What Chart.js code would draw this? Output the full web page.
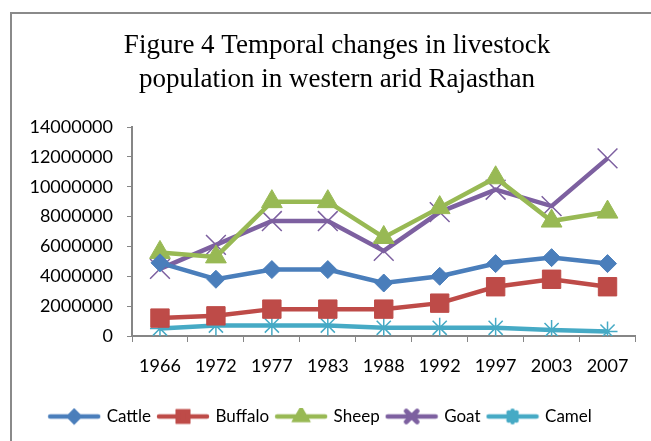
<!DOCTYPE html>
<html>
<head>
<meta charset="utf-8">
<script src="https://cdn.jsdelivr.net/npm/chart.js@4.4.1/dist/chart.umd.min.js"></script>
<style>
  body { margin: 0; background: #fff; }
  #wrap { position: relative; width: 651px; height: 441px; overflow: hidden; }
  #frame { position: absolute; left: 10px; top: 12px; width: 700px; height: 500px; border: 2px solid #8a8a8a; }
  #myChart { position: absolute; left: 0; top: 0; }
</style>
</head>
<body>
<div id="wrap">
  <div id="frame"></div>
  <canvas id="myChart" width="651" height="441"></canvas>
</div>
<script>
// years on the x axis
const years = ["1966", "1972", "1977", "1983", "1988", "1992", "1997", "2003", "2007"];

// livestock numbers
const cattle = [4900000, 3800000, 4450000, 4450000, 3550000, 4000000, 4850000, 5250000, 4850000];
const buffalo = [1200000, 1350000, 1800000, 1800000, 1800000, 2200000, 3300000, 3800000, 3300000];
const sheep = [5600000, 5300000, 9000000, 9000000, 6600000, 8600000, 10600000, 7700000, 8300000];
const goat = [4500000, 6100000, 7700000, 7700000, 5700000, 8300000, 9800000, 8700000, 11900000];
const camel = [500000, 700000, 700000, 700000, 550000, 550000, 550000, 400000, 300000];

const titleLines = ["Figure 4 Temporal changes in livestock", "population in western arid Rajasthan"];
const seriesNames = ["Cattle", "Buffalo", "Sheep", "Goat", "Camel"];
const seriesColors = ["#4a7ebb", "#be4b48", "#98b954", "#7d60a0", "#46aac5"];
const tickFont = { family: "Lato, 'Liberation Sans', sans-serif", size: 18 };

// small picture for the legend: a thick line with the marker on it
function legendIcon(color, style, radius, bw) {
  const c = document.createElement("canvas");
  c.width = 54;
  c.height = 18;
  const g = c.getContext("2d");
  g.strokeStyle = color;
  g.lineWidth = 4.5;
  g.lineCap = "round";
  g.beginPath();
  g.moveTo(3, 9);
  g.lineTo(51, 9);
  g.stroke();
  Chart.helpers.drawPoint(g, { pointStyle: style, radius: radius, borderWidth: bw, rotation: 0 }, 27, 9);
  g.fillStyle = color;
  g.fill();
  if (bw) g.stroke();
  return c;
}

// the title in the original sits a bit right of the canvas centre
const figTitle = {
  id: "figTitle",
  afterDraw(chart) {
    const c = chart.ctx;
    c.save();
    c.fillStyle = "#000";
    c.font = "27px 'Liberation Serif', 'DejaVu Serif', serif";
    c.textAlign = "center";
    c.textBaseline = "middle";
    c.fillText(titleLines[0], 337, 46);
    c.fillText(titleLines[1], 337, 80);
    c.restore();
  }
};

const ctx = document.getElementById("myChart");

function ds(i, data, style, radius, bw) {
  return {
    label: seriesNames[i],
    data: data,
    borderColor: seriesColors[i],
    backgroundColor: seriesColors[i],
    borderWidth: 4.5,
    pointStyle: style,
    pointRadius: radius,
    pointHoverRadius: radius,
    pointBorderWidth: bw,
    pointBackgroundColor: seriesColors[i],
    pointBorderColor: seriesColors[i],
    tension: 0
  };
}

new Chart(ctx, {
  type: "line",
  data: {
    labels: years,
    datasets: [
      ds(0, cattle, "rectRot", 9, 1),
      ds(1, buffalo, "rect", 13, 1),
      ds(2, sheep, "triangle", 12, 1),
      ds(3, goat, "crossRot", 14, 1.5),
      ds(4, camel, "star", 10, 1.5)
    ]
  },
  plugins: [figTitle],
  options: {
    responsive: false,
    animation: false,
    layout: { padding: { left: 6, right: 15, top: 127, bottom: 6 } },
    plugins: {
      title: { display: false },
      legend: {
        position: "bottom",
        labels: {
          color: "#000",
          font: { family: "Lato, 'Liberation Sans', sans-serif", size: 17 },
          usePointStyle: true,
          pointStyleWidth: 48,
          padding: 8,
          generateLabels: function (chart) {
            return chart.data.datasets.map(function (d, i) {
              return {
                text: d.label,
                pointStyle: legendIcon(d.borderColor, d.pointStyle, d.pointRadius * 0.55, d.pointBorderWidth),
                fillStyle: d.borderColor,
                strokeStyle: d.borderColor,
                lineWidth: 0,
                datasetIndex: i,
                fontColor: "#000"
              };
            });
          }
        }
      },
      tooltip: { enabled: false }
    },
    scales: {
      x: {
        offset: true,
        grid: { offset: true, drawOnChartArea: false, drawTicks: true, tickLength: 6, color: "#868686" },
        border: { color: "#868686", width: 2 },
        ticks: { color: "#000", font: tickFont, padding: 13, maxRotation: 0 },
        afterFit: function (s) { s.height = 64; }
      },
      y: {
        min: 0,
        max: 14000000,
        grid: { drawOnChartArea: false, drawTicks: true, tickLength: 5, color: "#868686" },
        border: { color: "#868686", width: 2 },
        ticks: {
          stepSize: 2000000,
          color: "#000",
          font: tickFont,
          padding: 14,
          callback: function (v) { return String(v); }
        },
        afterFit: function (s) { s.width = 126; }
      }
    }
  }
});
</script>
</body>
</html>
